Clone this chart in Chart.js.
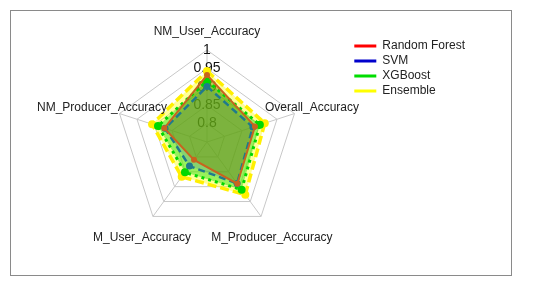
<!DOCTYPE html>
<html>
<head>
<meta charset="utf-8">
<script src="https://cdn.jsdelivr.net/npm/chart.js@4"></script>
<style>
  body { margin: 0; background: #fff; }
  #frame { position: absolute; left: 10px; top: 10px; width: 500px; height: 264px; border: 1px solid #8a8a8a; }
</style>
</head>
<body>
<div id="frame"><canvas id="radarChart" width="500" height="264"></canvas></div>
<script>
// Axes, clockwise from the top
const axisLabels = ['NM_User_Accuracy', 'Overall_Accuracy', 'M_Producer_Accuracy', 'M_User_Accuracy', 'NM_Producer_Accuracy'];

// Series values
const randomForest = [0.932, 0.887, 0.890, 0.810, 0.872];
const svm          = [0.901, 0.881, 0.889, 0.831, 0.870];
const xgboost      = [0.916, 0.901, 0.910, 0.852, 0.890];
const ensemble     = [0.943, 0.915, 0.927, 0.867, 0.907];

const seriesNames = ['Random Forest', 'SVM', 'XGBoost', 'Ensemble'];
const tickValues = [0.8, 0.85, 0.9, 0.95, 1];

// Colours
const legendColors = ['#ff0000', '#0000cc', '#00dd00', '#ffff00'];
const lineColors   = ['#c8641e', '#1f7a8c', '#00d800', '#ffef00'];
const fillColors   = ['rgba(110,140,0,0.45)', 'rgba(0,0,255,0.12)', 'rgba(0,220,0,0.4)', 'rgba(255,255,0,0.4)'];

const fontFamily = '"Liberation Sans", Arial, sans-serif';

// point labels centred on their spoke, outside the outer ring
const centeredPointLabels = {
    id: 'centeredPointLabels',
    afterDatasetsDraw(chart) {
        const scale = chart.scales.r;
        const ctx = chart.ctx;
        ctx.save();
        ctx.font = '12px ' + fontFamily;
        ctx.fillStyle = '#222';
        ctx.textAlign = 'center';
        ctx.textBaseline = 'middle';
        axisLabels.forEach((label, i) => {
            const p = scale.getPointPosition(i, scale.drawingArea * 1.2);
            ctx.fillText(label, p.x, p.y + (p.y > scale.yCenter ? 6 : 0));
        });
        ctx.restore();
    }
};

const salesData = {
    labels: axisLabels,
    datasets: [
        { label: seriesNames[0], data: randomForest, borderColor: lineColors[0], backgroundColor: fillColors[0],
          borderWidth: 2, pointRadius: 3, pointBackgroundColor: lineColors[0], pointBorderWidth: 0, fill: true },
        { label: seriesNames[1], data: svm, borderColor: lineColors[1], backgroundColor: fillColors[1],
          borderWidth: 2.5, borderDash: [7, 4], pointRadius: 3.5, pointBackgroundColor: lineColors[1], pointBorderWidth: 0, fill: true },
        { label: seriesNames[2], data: xgboost, borderColor: lineColors[2], backgroundColor: fillColors[2],
          borderWidth: 3, borderDash: [3, 4], pointRadius: 4, pointBackgroundColor: lineColors[2], pointBorderWidth: 0, fill: true },
        { label: seriesNames[3], data: ensemble, borderColor: lineColors[3], backgroundColor: fillColors[3],
          borderWidth: 3.5, borderDash: [9, 4], pointRadius: 4, pointBackgroundColor: lineColors[3], pointBorderWidth: 0, fill: true }
    ]
};

const config = {
    type: 'radar',
    data: salesData,
    options: {
        responsive: false,
        animation: false,
        layout: { padding: { left: 52, right: 36, top: 26, bottom: 28 } },
        elements: { line: { tension: 0 } },
        plugins: {
            filler: { drawTime: 'beforeDatasetsDraw' },
            tooltip: { enabled: false },
            legend: {
                position: 'right',
                align: 'start',
                labels: {
                    usePointStyle: true,
                    pointStyleWidth: 22,
                    padding: 3,
                    color: '#222',
                    font: { size: 12, family: fontFamily },
                    generateLabels: () => seriesNames.map((name, i) => ({
                        text: name,
                        fillStyle: legendColors[i],
                        strokeStyle: legendColors[i],
                        lineWidth: 3,
                        pointStyle: 'line',
                        hidden: false,
                        datasetIndex: i,
                        fontColor: '#222'
                    }))
                }
            }
        },
        scales: {
            r: {
                min: 0.75,
                max: 1,
                grid: { color: '#c8c8c8', lineWidth: 1 },
                angleLines: { color: '#c8c8c8', lineWidth: 1 },
                pointLabels: { display: false },
                ticks: {
                    stepSize: 0.05,
                    showLabelBackdrop: false,
                    backdropPadding: 6,
                    color: '#111',
                    font: { size: 14, family: fontFamily },
                    callback: v => {
                        const r = Math.round(v * 100) / 100;
                        return tickValues.includes(r) ? String(r) : '';
                    }
                }
            }
        }
    },
    plugins: [centeredPointLabels]
};

window.onload = () => {
    const ctx = document.getElementById('radarChart').getContext('2d');
    new Chart(ctx, config);
};
</script>
</body>
</html>
